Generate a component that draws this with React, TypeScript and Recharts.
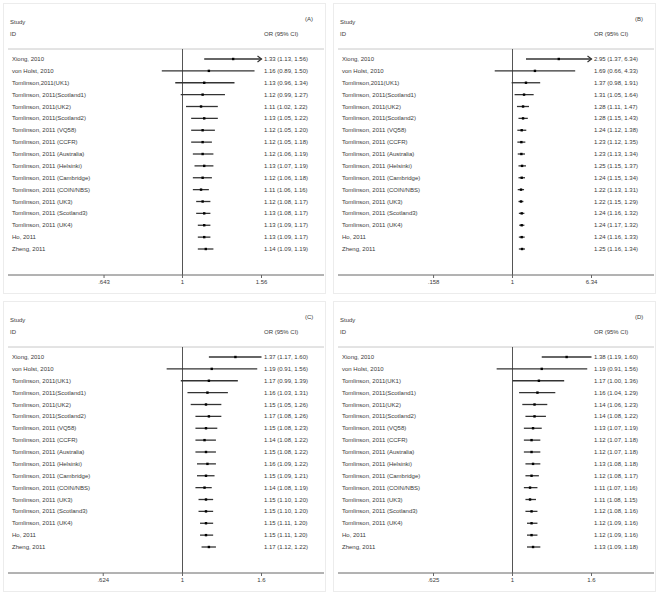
import React from 'react';
import { ScatterChart, Scatter, XAxis, YAxis, ReferenceLine } from 'recharts';

// ---------- data ----------
const studiesAB = [
  'Xiong, 2010', 'von Holst, 2010', 'Tomlinson,2011(UK1)', 'Tomlinson, 2011(Scotland1)',
  'Tomlinson, 2011(UK2)', 'Tomlinson, 2011(Scotland2)', 'Tomlinson, 2011 (VQ58)',
  'Tomlinson, 2011 (CCFR)', 'Tomlinson, 2011 (Australia)', 'Tomlinson, 2011 (Helsinki)',
  'Tomlinson, 2011 (Cambridge)', 'Tomlinson, 2011 (COIN/NBS)', 'Tomlinson, 2011 (UK3)',
  'Tomlinson, 2011 (Scotland3)', 'Tomlinson, 2011 (UK4)', 'Ho, 2011', 'Zheng, 2011',
];
const studiesCD = [
  'Xiong, 2010', 'von Holst, 2010', 'Tomlinson, 2011(UK1)', 'Tomlinson, 2011(Scotland1)',
  'Tomlinson, 2011(UK2)', 'Tomlinson, 2011(Scotland2)', 'Tomlinson, 2011 (VQ58)',
  'Tomlinson, 2011 (CCFR)', 'Tomlinson, 2011 (Australia)', 'Tomlinson, 2011 (Helsinki)',
  'Tomlinson, 2011 (Cambridge)', 'Tomlinson, 2011 (COIN/NBS)', 'Tomlinson, 2011 (UK3)',
  'Tomlinson, 2011 (Scotland3)', 'Tomlinson, 2011 (UK4)', 'Ho, 2011', 'Zheng, 2011',
];

const orA = [1.33, 1.16, 1.13, 1.12, 1.11, 1.13, 1.12, 1.12, 1.12, 1.13, 1.12, 1.11, 1.12, 1.13, 1.13, 1.13, 1.14];
const loA = [1.13, 0.89, 0.96, 0.99, 1.02, 1.05, 1.05, 1.05, 1.06, 1.07, 1.06, 1.06, 1.08, 1.08, 1.09, 1.09, 1.09];
const hiA = [1.56, 1.50, 1.34, 1.27, 1.22, 1.22, 1.20, 1.18, 1.19, 1.19, 1.18, 1.16, 1.17, 1.17, 1.17, 1.17, 1.19];

const orB = [2.95, 1.69, 1.37, 1.31, 1.28, 1.28, 1.24, 1.23, 1.23, 1.25, 1.24, 1.22, 1.22, 1.24, 1.24, 1.24, 1.25];
const loB = [1.37, 0.66, 0.98, 1.05, 1.11, 1.15, 1.12, 1.12, 1.13, 1.15, 1.15, 1.13, 1.15, 1.16, 1.17, 1.16, 1.16];
const hiB = [6.34, 4.33, 1.91, 1.64, 1.47, 1.43, 1.38, 1.35, 1.34, 1.37, 1.34, 1.31, 1.29, 1.32, 1.32, 1.33, 1.34];

const orC = [1.37, 1.19, 1.17, 1.16, 1.15, 1.17, 1.15, 1.14, 1.15, 1.16, 1.15, 1.14, 1.15, 1.15, 1.15, 1.15, 1.17];
const loC = [1.17, 0.91, 0.99, 1.03, 1.05, 1.08, 1.08, 1.08, 1.08, 1.09, 1.09, 1.08, 1.10, 1.10, 1.11, 1.11, 1.12];
const hiC = [1.60, 1.56, 1.39, 1.31, 1.26, 1.26, 1.23, 1.22, 1.22, 1.22, 1.21, 1.19, 1.20, 1.20, 1.20, 1.20, 1.22];

const orD = [1.38, 1.19, 1.17, 1.16, 1.14, 1.14, 1.13, 1.12, 1.12, 1.13, 1.12, 1.11, 1.11, 1.12, 1.12, 1.12, 1.13];
const loD = [1.19, 0.91, 1.00, 1.04, 1.06, 1.08, 1.07, 1.07, 1.07, 1.08, 1.08, 1.07, 1.08, 1.08, 1.09, 1.09, 1.09];
const hiD = [1.60, 1.56, 1.36, 1.29, 1.23, 1.22, 1.19, 1.18, 1.18, 1.18, 1.17, 1.16, 1.15, 1.16, 1.16, 1.16, 1.18];

const ticksA = [0.643, 1, 1.56];
const ticksB = [0.158, 1, 6.34];
const ticksC = [0.624, 1, 1.6];
const ticksD = [0.625, 1, 1.6];
const tickLabelsA = ['.643', '1', '1.56'];
const tickLabelsB = ['.158', '1', '6.34'];
const tickLabelsC = ['.624', '1', '1.6'];
const tickLabelsD = ['.625', '1', '1.6'];

const arrowRowsA = [0];
const arrowRowsB = [0];
const arrowRowsC: number[] = [];
const arrowRowsD: number[] = [];

const panelLetters = ['(A)', '(B)', '(C)', '(D)'];

// ---------- layout ----------
const FONT = '"Liberation Sans", Arial, sans-serif';
const FS = 6;
const PW = 330;
const PH = 298;
const PLOT_LEFT = 8;
const PLOT_RIGHT = 324;
const ONE_X = 182.5;
const TICK_OFFSET = 79;
const Y_TOP = 49;
const Y_BOTTOM = 275;
const ROW0 = 59;
const ROW_STEP = 11.875;
const TEXT_X = 12;
const OR_X = 264;

const fmt = (v: number) => v.toFixed(2);

function xDomain(hiTick: number): [number, number] {
  const k = TICK_OFFSET / Math.log(hiTick);
  return [Math.exp(-(ONE_X - PLOT_LEFT) / k), Math.exp((PLOT_RIGHT - ONE_X) / k)];
}
const yDomain: [number, number] = [-(ROW0 - Y_TOP) / ROW_STEP, (Y_BOTTOM - ROW0) / ROW_STEP];

type PanelCfg = {
  names: string[];
  or: number[];
  lo: number[];
  hi: number[];
  ticks: number[];
  tickLabels: string[];
  arrows: number[];
  letter: string;
  left: number;
  top: number;
};

const panels: PanelCfg[] = [
  { names: studiesAB, or: orA, lo: loA, hi: hiA, ticks: ticksA, tickLabels: tickLabelsA, arrows: arrowRowsA, letter: panelLetters[0], left: 0, top: 0 },
  { names: studiesAB, or: orB, lo: loB, hi: hiB, ticks: ticksB, tickLabels: tickLabelsB, arrows: arrowRowsB, letter: panelLetters[1], left: 330, top: 0 },
  { names: studiesCD, or: orC, lo: loC, hi: hiC, ticks: ticksC, tickLabels: tickLabelsC, arrows: arrowRowsC, letter: panelLetters[2], left: 0, top: 298 },
  { names: studiesCD, or: orD, lo: loD, hi: hiD, ticks: ticksD, tickLabels: tickLabelsD, arrows: arrowRowsD, letter: panelLetters[3], left: 330, top: 298 },
];

const TEXT_COLOR = '#3a3a3a';

function Panel({ cfg }: { cfg: PanelCfg }) {
  const rows = cfg.or.map((v, i) => ({ or: v, lo: cfg.lo[i], hi: cfg.hi[i], idx: i, name: cfg.names[i] }));
  const hiTick = cfg.ticks[cfg.ticks.length - 1];
  const dom = xDomain(hiTick);

  const arrowShape = (p: any) => (
    <g>
      <line x1={p.x1} y1={p.y1} x2={p.x2} y2={p.y2} stroke="#333" strokeWidth={1.3} />
      <polyline
        points={`${p.x2 - 4},${p.y2 - 3} ${p.x2},${p.y2} ${p.x2 - 4},${p.y2 + 3}`}
        fill="none"
        stroke="#333"
        strokeWidth={1.2}
      />
    </g>
  );

  // point estimate marker; the row texts share its vertical position
  const Dot = (p: any) => {
    const r = p.payload || {};
    return (
      <g>
        <rect x={p.cx - 1.2} y={p.cy - 1.2} width={2.4} height={2.4} fill="#000" />
        <text x={TEXT_X} y={p.cy} dy={2} fontSize={FS} fontFamily={FONT} fill={TEXT_COLOR} textAnchor="start">
          {r.name}
        </text>
        <text x={OR_X} y={p.cy} dy={2} fontSize={FS} fontFamily={FONT} fill={TEXT_COLOR} textAnchor="start">
          {`${fmt(r.or)} (${fmt(r.lo)}, ${fmt(r.hi)})`}
        </text>
      </g>
    );
  };

  return (
    <div style={{ position: 'absolute', left: cfg.left, top: cfg.top, width: PW, height: PH }}>
      <div
        style={{
          position: 'absolute',
          left: 3,
          top: 3,
          width: PW - 7,
          height: PH - 7,
          border: '1px solid #ececec',
          boxSizing: 'border-box',
        }}
      />
      <div style={{ position: 'absolute', left: 0, top: 0 }}>
        <ScatterChart width={PW} height={PH} margin={{ top: Y_TOP, right: PW - PLOT_RIGHT, left: PLOT_LEFT, bottom: PH - Y_BOTTOM - 18 }}>
          <XAxis
            type="number"
            dataKey="or"
            scale="log"
            domain={dom}
            allowDataOverflow
            ticks={cfg.ticks}
            interval={0}
            tickFormatter={(v: number) => cfg.tickLabels[cfg.ticks.indexOf(v)] ?? String(v)}
            height={18}
            tickSize={3}
            tickMargin={2}
            stroke="#666"
            tick={{ fontSize: FS, fill: TEXT_COLOR, fontFamily: FONT }}
          />
          <YAxis type="number" dataKey="idx" domain={yDomain} reversed allowDataOverflow hide />
          <ReferenceLine y={yDomain[0]} stroke="#c8c8c8" strokeWidth={1} ifOverflow="visible" />
          <ReferenceLine x={1} stroke="#555" strokeWidth={1} ifOverflow="visible" />
          {rows.map((r, i) => (
            <ReferenceLine
              key={i}
              segment={[
                { x: r.lo, y: r.idx },
                { x: Math.min(r.hi, hiTick), y: r.idx },
              ]}
              stroke="#333"
              strokeWidth={1.3}
              ifOverflow="visible"
              shape={cfg.arrows.includes(i) ? arrowShape : undefined}
            />
          ))}
          <Scatter data={rows} shape={Dot} isAnimationActive={false} />
        </ScatterChart>
      </div>
      <svg width={PW} height={PH} style={{ position: 'absolute', left: 0, top: 0, pointerEvents: 'none' }}>
        <text x={TEXT_X - 2} y={24} fontSize={FS} fontFamily={FONT} fill={TEXT_COLOR}>Study</text>
        <text x={TEXT_X - 2} y={36} fontSize={FS} fontFamily={FONT} fill={TEXT_COLOR}>ID</text>
        <text x={OR_X} y={36} fontSize={FS} fontFamily={FONT} fill={TEXT_COLOR}>OR (95% CI)</text>
        <text x={305} y={21} fontSize={FS} fontFamily={FONT} fill={TEXT_COLOR}>{cfg.letter}</text>
      </svg>
    </div>
  );
}

export default function App() {
  return (
    <div style={{ position: 'absolute', left: 0, top: 0, width: 661, height: 595, background: '#fff', overflow: 'hidden' }}>
      {panels.map((p, i) => (
        <Panel key={i} cfg={p} />
      ))}
    </div>
  );
}
